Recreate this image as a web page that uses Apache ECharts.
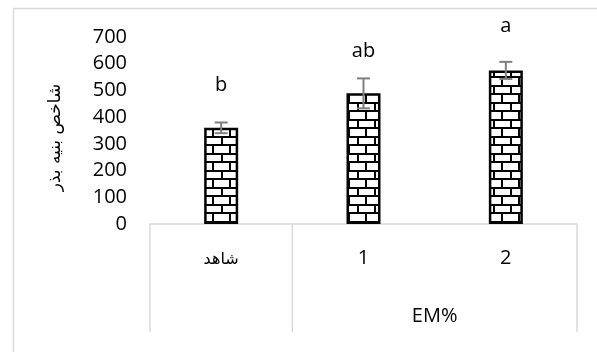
<!DOCTYPE html>
<html>
<head>
<meta charset="utf-8">
<script src="https://cdn.jsdelivr.net/npm/echarts@6/dist/echarts.min.js"></script>
<style>
html,body{margin:0;padding:0;background:#fff;}
#c{width:597px;height:352px;}
</style>
</head>
<body>
<div id="c"></div>
<script>
// ---- data ----
const categories = ['شاهد', '1', '2'];
const groupOf = ['', 'EM%', 'EM%'];
const values = [360, 489, 575];
const errors = [20, 56, 32];
const letters = ['b', 'ab', 'a'];
const yMin = 0, yMax = 700, yStep = 100;
const yTitle = 'شاخص بنیه بذر';

// ---- styling ----
const letterGap = [37, 27, 36];
const numFont = 'Open Sans';
const arFont = 'DejaVu Sans';

function brickPattern() {
  const w = 17, h = 17;
  const cv = document.createElement('canvas');
  cv.width = w; cv.height = h;
  const ctx = cv.getContext('2d');
  ctx.fillStyle = '#fff';
  ctx.fillRect(0, 0, w, h);
  ctx.fillStyle = '#000';
  ctx.fillRect(0, 0, w, 2);
  ctx.fillRect(0, 8, w, 2);
  ctx.fillRect(0, 0, 2, 9);
  ctx.fillRect(8, 8, 2, 9);
  return cv;
}

const chart = echarts.init(document.getElementById('c'), null, {renderer: 'canvas'});

const option = {
  animation: false,
  backgroundColor: '#fff',
  graphic: [{
    type: 'rect', left: 11, top: 6, silent: true,
    shape: {x: 0, y: 0, width: 700, height: 500},
    style: {fill: 'none', stroke: '#d9d9d9', lineWidth: 1.5}
  }],
  grid: {left: 150, right: 20, top: 37, bottom: 128},
  xAxis: {
    type: 'category',
    data: categories,
    axisLine: {show: true, lineStyle: {color: '#d9d9d9', width: 1.5}},
    axisTick: {show: false},
    axisLabel: {
      margin: 24, color: '#000', fontSize: 20, fontFamily: numFont,
      formatter: function (v, i) { return i === 0 ? '{ar|' + v + '}' : v; },
      rich: {ar: {fontSize: 16, fontFamily: arFont, color: '#000', padding: [4, 0, 0, 0]}}
    }
  },
  yAxis: {
    type: 'value', min: yMin, max: yMax, interval: yStep,
    name: yTitle, nameLocation: 'middle', nameGap: 86, nameRotate: 90,
    nameTextStyle: {fontSize: 17, fontFamily: arFont, color: '#000', padding: [0, 14, 0, 0]},
    axisLine: {show: false}, axisTick: {show: false}, splitLine: {show: false},
    axisLabel: {margin: 23, color: '#000', fontSize: 20, fontFamily: numFont}
  },
  series: [
    {
      type: 'bar',
      data: values,
      barWidth: 34,
      itemStyle: {
        color: {image: brickPattern(), repeat: 'repeat'},
        borderColor: '#000', borderWidth: 2.5
      },
      z: 2
    },
    {
      type: 'custom',
      data: values.map((v, i) => [i, v, errors[i]]),
      z: 5,
      clip: false,
      renderItem: function (params, api) {
        const i = api.value(0), v = api.value(1), e = api.value(2);
        const top = api.coord([i, v + e]);
        const bot = api.coord([i, v - e]);
        const cw = 6.5;
        const st = {stroke: '#7f7f7f', lineWidth: 2};
        return {
          type: 'group',
          children: [
            {type: 'line', shape: {x1: top[0], y1: top[1], x2: bot[0], y2: bot[1]}, style: st},
            {type: 'line', shape: {x1: top[0] - cw, y1: top[1], x2: top[0] + cw, y2: top[1]}, style: st},
            {type: 'line', shape: {x1: bot[0] - cw, y1: bot[1], x2: bot[0] + cw, y2: bot[1]}, style: st},
            {type: 'text', x: top[0], y: top[1] - letterGap[params.dataIndex],
             style: {text: letters[params.dataIndex], fill: '#000', fontSize: 20, fontFamily: numFont,
                     align: 'center', verticalAlign: 'middle'}}
          ]
        };
      }
    },
    {
      type: 'custom',
      data: categories.map((c, i) => [i, 0]),
      z: 1,
      clip: false,
      silent: true,
      renderItem: function (params, api) {
        const i = api.value(0);
        const c = api.coord([i, 0]);
        const w = api.size([1, 0])[0];
        const depth = 108;
        const st = {stroke: '#d9d9d9', lineWidth: 1.5};
        const children = [];
        const left = c[0] - w / 2, right = c[0] + w / 2;
        if (i === 0 || groupOf[i] !== groupOf[i - 1]) {
          children.push({type: 'line', shape: {x1: left, y1: c[1], x2: left, y2: c[1] + depth}, style: st});
        }
        if (i === categories.length - 1) {
          children.push({type: 'line', shape: {x1: right, y1: c[1], x2: right, y2: c[1] + depth}, style: st});
        }
        if (groupOf[i] && (i === 0 || groupOf[i] !== groupOf[i - 1])) {
          let j = i;
          while (j + 1 < categories.length && groupOf[j + 1] === groupOf[i]) j++;
          const cEnd = api.coord([j, 0]);
          children.push({type: 'text', x: (c[0] + cEnd[0]) / 2, y: c[1] + 92,
            style: {text: groupOf[i], fill: '#000', fontSize: 20, fontFamily: numFont,
                    align: 'center', verticalAlign: 'middle'}});
        }
        return {type: 'group', children: children};
      }
    }
  ]
};
chart.setOption(option);
</script>
</body>
</html>
